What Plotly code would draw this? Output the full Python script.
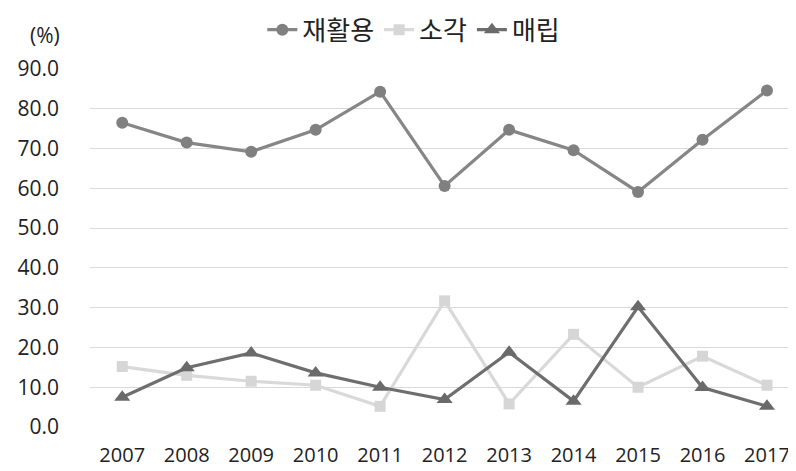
import plotly.graph_objects as go

years = ["2007", "2008", "2009", "2010", "2011", "2012", "2013", "2014", "2015", "2016", "2017"]
recycle = [76.5, 71.5, 69.2, 74.7, 84.3, 60.6, 74.7, 69.6, 59.1, 72.2, 84.6]
incinerate = [15.2, 13.0, 11.5, 10.5, 5.2, 31.7, 5.8, 23.3, 10.0, 17.8, 10.5]
landfill = [7.5, 14.9, 18.6, 13.6, 10.0, 6.9, 18.8, 6.5, 30.2, 9.9, 5.2]
y_ticks = [0, 10, 20, 30, 40, 50, 60, 70, 80, 90]

KFONT = "Noto Sans CJK KR, sans-serif"
NFONT = "Open Sans, sans-serif"

fig = go.Figure()
fig.add_trace(go.Scatter(x=years, y=recycle, name="재활용", mode="lines+markers",
                         line=dict(color="#868686", width=3.2),
                         marker=dict(symbol="circle", size=12, color="#808080")))
fig.add_trace(go.Scatter(x=years, y=incinerate, name="소각", mode="lines+markers",
                         line=dict(color="#d9d9d9", width=3.2),
                         marker=dict(symbol="square", size=11, color="#d6d6d6")))
fig.add_trace(go.Scatter(x=years, y=landfill, name="매립", mode="lines+markers",
                         line=dict(color="#6e6e6e", width=3.2),
                         marker=dict(symbol="triangle-up", size=14, color="#6a6a6a")))

fig.update_layout(
    width=788, height=463,
    margin=dict(l=82, r=0, t=61, b=44, autoexpand=False),
    paper_bgcolor="white", plot_bgcolor="white",
    font=dict(family=NFONT, color="#222222", size=21),
    showlegend=True,
    legend=dict(orientation="h", xref="container", yref="container",
                x=0.515, xanchor="center", y=0.953, yanchor="middle",
                font=dict(size=26, family=KFONT), tracegroupgap=0,
                bgcolor="rgba(0,0,0,0)"),
    xaxis=dict(type="category", range=[-0.5, 10.45], showgrid=False, showline=False,
               ticks="", tickfont=dict(size=20, family=NFONT), zeroline=False,
               ticklabelstandoff=14),
    yaxis=dict(range=[0, 90], tickvals=y_ticks, tickformat=".1f",
               showgrid=True, gridcolor="#d9d9d9", gridwidth=1,
               zeroline=False, showline=False, ticks="", tickfont=dict(size=21, family=NFONT),
               ticklabelstandoff=30),
    annotations=[dict(text="(%)", xref="paper", yref="paper", x=-0.064, y=1.095,
                      xanchor="center", yanchor="middle", showarrow=False,
                      font=dict(size=21, family=NFONT))],
)
for tr in fig.data:
    tr.cliponaxis = False

fig.write_html("out.html")
